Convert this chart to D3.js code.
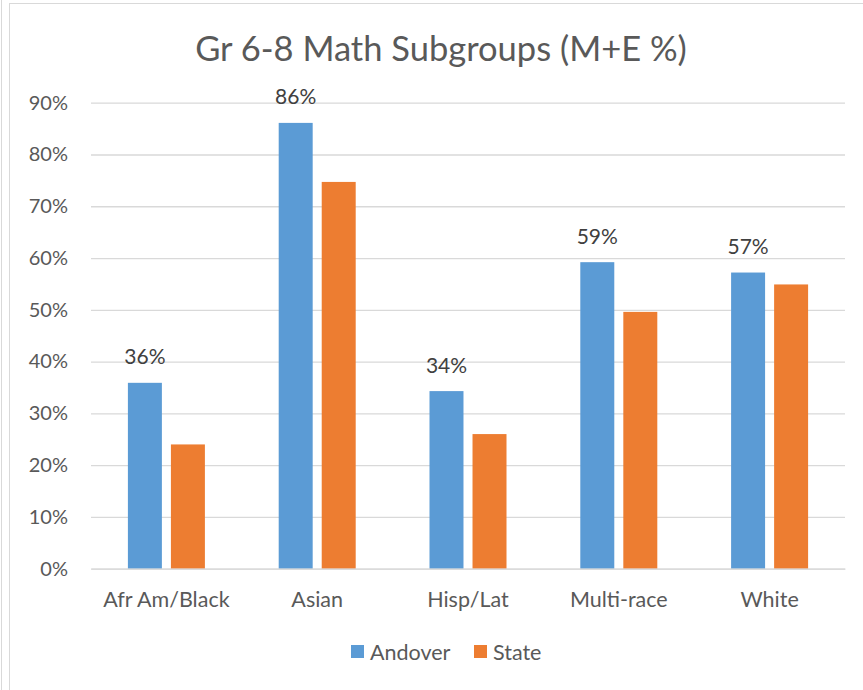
<!DOCTYPE html>
<html>
<head>
<meta charset="utf-8">
<script src="https://cdn.jsdelivr.net/npm/d3@7"></script>
<style>
  body { margin: 0; background: #fff; }
  svg { display: block; font-family: Lato, "Open Sans", sans-serif; }
</style>
</head>
<body>
<script>
const categories = ['Afr Am/Black', 'Asian', 'Hisp/Lat', 'Multi-race', 'White']
const series = ['Andover', 'State']
const andover = [0.359, 0.861, 0.343, 0.592, 0.572]
const state = [0.24, 0.747, 0.26, 0.496, 0.549]
const yTicks = [0, 0.1, 0.2, 0.3, 0.4, 0.5, 0.6, 0.7, 0.8, 0.9]
const colors = ['#5B9BD5', '#ED7D31']

const w = 863
const h = 690
const plotLeft = 91, plotRight = 845, plotTop = 102.7, plotBottom = 568.7

const svg = d3.select('body')
    .append('svg')
    .attr('width', w)
    .attr('height', h)

// frame lines
svg.append('line')
    .attr('x1', 1.5).attr('x2', 1.5).attr('y1', 0).attr('y2', h)
    .attr('stroke', '#d9d9d9')
svg.append('rect')
    .attr('x', 9.5).attr('y', 3.5)
    .attr('width', w).attr('height', h)
    .attr('fill', 'none')
    .attr('stroke', '#d9d9d9')

const xScale = d3.scaleBand()
    .domain(categories)
    .range([plotLeft, plotRight])

const x1 = d3.scaleBand()
    .domain(series)
    .range([-38.5, 38.5])
    .paddingInner(0.21)

const yScale = d3.scaleLinear()
    .domain([0, 0.9])
    .range([plotBottom, plotTop])

// title
svg.append('text')
    .attr('x', 441)
    .attr('y', 61)
    .attr('text-anchor', 'middle')
    .attr('font-size', 34.5)
    .attr('fill', '#595959')
    .text('Gr 6-8 Math Subgroups (M+E %)')

// gridlines
const yAxis = d3.axisLeft(yScale)
    .tickValues(yTicks)
    .tickFormat(d3.format('.0%'))
    .tickSize(-(plotRight - plotLeft))
    .tickPadding(23)

const gy = svg.append('g')
    .attr('transform', 'translate(' + plotLeft + ',0)')
    .call(yAxis)
gy.select('.domain').remove()
gy.selectAll('line').attr('stroke', '#d9d9d9').attr('stroke-width', 1.3)
gy.selectAll('text')
    .attr('fill', '#595959')
    .attr('font-size', 20)
    .attr('font-family', 'Lato, sans-serif')

const data = categories.map((c, i) => ({cat: c, values: [andover[i], state[i]]}))

const groups = svg.selectAll('.grp')
    .data(data)
    .enter()
    .append('g')
    .attr('transform', d => 'translate(' + (xScale(d.cat) + xScale.bandwidth() / 2) + ',0)')

groups.selectAll('rect')
    .data(d => d.values.map((v, j) => ({s: series[j], v: v, j: j})))
    .enter()
    .append('rect')
    .attr('x', d => x1(d.s))
    .attr('width', x1.bandwidth())
    .attr('y', d => yScale(d.v))
    .attr('height', d => yScale(0) - yScale(d.v))
    .attr('fill', d => colors[d.j])

// data labels, Andover only
groups.append('text')
    .attr('x', x1('Andover') + x1.bandwidth() / 2)
    .attr('y', d => yScale(d.values[0]) - 18.5)
    .attr('text-anchor', 'middle')
    .attr('font-size', 21)
    .attr('fill', '#404040')
    .text(d => d3.format('.0%')(d.values[0]))

// x axis
const xAxis = d3.axisBottom(xScale).tickSize(0).tickPadding(23)
const gx = svg.append('g')
    .attr('transform', 'translate(0,' + plotBottom + ')')
    .call(xAxis)
gx.select('.domain').attr('stroke', '#d9d9d9').attr('stroke-width', 1.3)
gx.selectAll('text')
    .attr('fill', '#595959')
    .attr('font-size', 21.5)
    .attr('font-family', 'Lato, sans-serif')

// legend
const legend = svg.append('g')
const legendX = [351, 474]
series.forEach((s, i) => {
    legend.append('rect')
        .attr('x', legendX[i]).attr('y', 645)
        .attr('width', 13).attr('height', 13)
        .attr('fill', colors[i])
    legend.append('text')
        .attr('x', legendX[i] + 19).attr('y', 660)
        .attr('font-size', 21.5)
        .attr('fill', '#595959')
        .text(s)
})
</script>
</body>
</html>
